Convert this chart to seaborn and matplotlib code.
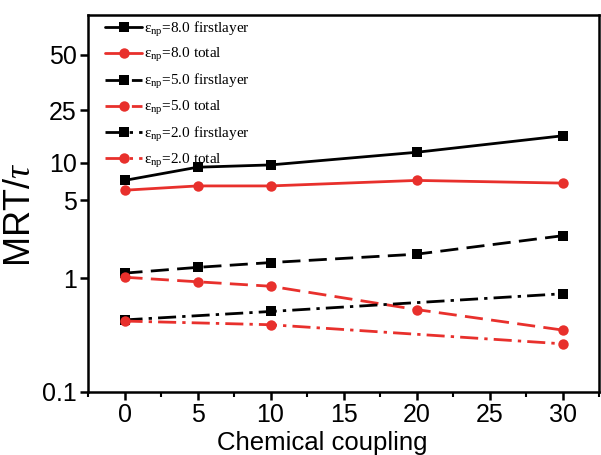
import numpy as np
import pandas as pd
import matplotlib
matplotlib.use("Agg")
import matplotlib.pyplot as plt
import matplotlib.ticker as mticker
import seaborn as sns

# ---- data ----
x_full = [0, 5, 10, 20, 30]
x_part = [0, 10, 30]
e8_first = [7.2, 9.2, 9.6, 12.0, 16.0]
e8_total = [6.0, 6.5, 6.5, 7.2, 6.85]
e5_first = [1.11, 1.25, 1.38, 1.64, 2.40]
e5_total = [1.02, 0.93, 0.85, 0.53, 0.35]
e2_first = [0.43, 0.51, 0.73]
e2_total = [0.42, 0.39, 0.265]

ytick_vals = [0.1, 1, 5, 10, 25, 50]
ytick_labels = ["0.1", "1", "5", "10", "25", "50"]
xticks = [0, 5, 10, 15, 20, 25, 30]
labels = ["=8.0 firstlayer", "=8.0 total", "=5.0 firstlayer", "=5.0 total",
          "=2.0 firstlayer", "=2.0 total"]

sns.set_theme(style="white")
plt.rcParams['font.family'] = ['Liberation Sans', 'DejaVu Sans']
plt.rcParams['mathtext.fontset'] = 'custom'
plt.rcParams['mathtext.rm'] = 'Liberation Serif'
plt.rcParams['mathtext.it'] = 'Liberation Serif:italic'
for k in ['text.color', 'axes.labelcolor', 'xtick.color', 'ytick.color']:
    plt.rcParams[k] = 'black'

# axis mapping (non-uniform, as in the original figure)
L = np.array([-2.0, -1.0, 0.0, np.log10(5), 1.0, np.log10(25), np.log10(50), 2.5])
P = np.array([-114.0, 0.0, 114.0, 192.3, 229.7, 282.3, 338.0, 486.0])

def fwd(v):
    v = np.asarray(v, dtype=float)
    return np.interp(np.log10(np.clip(v, 1e-12, None)), L, P)

def inv(p):
    p = np.asarray(p, dtype=float)
    return 10 ** np.interp(p, P, L)

fig = plt.figure(figsize=(6.01, 4.55), dpi=100)
ax = fig.add_axes([0.1464, 0.1385, 0.8506, 0.8285])
ax.set_yscale('function', functions=(fwd, inv))

RED = '#e8302c'
BLK = '#000000'
dash = (0, (6.5, 3.0))
dashdot = (0, (6.5, 2.2, 1.2, 2.2))

series = [
    (x_full, e8_first, BLK, 's', '-', labels[0]),
    (x_full, e8_total, RED, 'o', '-', labels[1]),
    (x_full, e5_first, BLK, 's', dash, labels[2]),
    (x_full, e5_total, RED, 'o', dash, labels[3]),
    (x_part, e2_first, BLK, 's', dashdot, labels[4]),
    (x_part, e2_total, RED, 'o', dashdot, labels[5]),
]
for xs, ys, c, m, ls, lab in series:
    ms = 7 if m == 's' else 7.5
    sns.lineplot(x=xs, y=ys, ax=ax, color=c, marker=m, markersize=ms,
                 markeredgewidth=0, linestyle=ls, linewidth=2.0,
                 label="ε" + r"$_{\mathrm{np}}$" + lab, sort=False,
                 errorbar=None)

ax.set_xlim(-2.5, 32.5)
ax.set_ylim(0.1, 82)
ax.xaxis.set_major_locator(mticker.FixedLocator(xticks))
ax.xaxis.set_minor_locator(mticker.MultipleLocator(2.5))
ax.yaxis.set_major_locator(mticker.FixedLocator(ytick_vals))
ax.yaxis.set_major_formatter(mticker.FixedFormatter(ytick_labels))
ax.yaxis.set_minor_locator(mticker.NullLocator())

ax.tick_params(axis='both', which='major', direction='out', length=6, width=1.8,
               labelsize=18, color='black', labelcolor='black', pad=2,
               left=True, bottom=True)
ax.tick_params(axis='x', which='minor', direction='out', length=3.5, width=1.5,
               bottom=True, color='black')
for s in ax.spines.values():
    s.set_color('black')
    s.set_linewidth(1.8)

ax.set_xlabel("Chemical coupling", fontsize=18.5, color='black')
ax.xaxis.set_label_coords(0.458, -0.103)
ax.set_ylabel(r"MRT/$\tau$", fontsize=26, color='black')
ax.yaxis.set_label_coords(-0.098, 0.47)

leg = ax.legend(loc='upper left', bbox_to_anchor=(0.025, 1.0), frameon=False,
                prop={'family': 'Liberation Serif', 'size': 11},
                handlelength=2.4, handletextpad=0.1, labelspacing=0.51,
                borderpad=0.2, borderaxespad=0.1)
for t in leg.get_texts():
    t.set_color('black')

fig.savefig("out.png", dpi=100)
